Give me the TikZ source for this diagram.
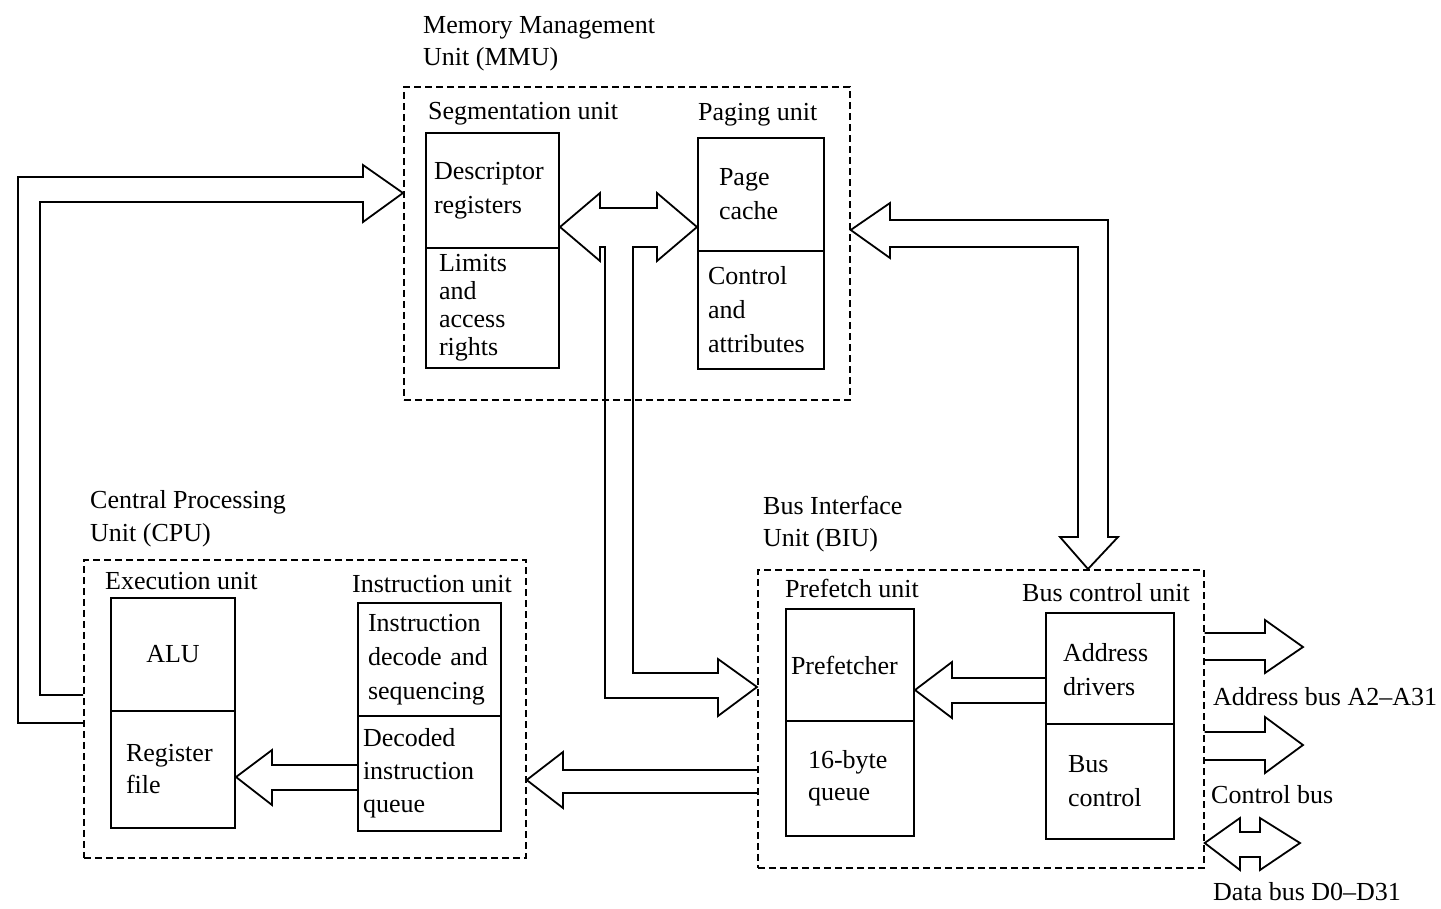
\documentclass[tikz,border=0pt]{standalone}
\usepackage{fontspec}
\setmainfont{Liberation Serif}
\usetikzlibrary{calc}
\begin{document}
\begin{tikzpicture}[x=1pt,y=-1pt,
  every node/.style={font=\fontsize{26pt}{34pt}\selectfont, inner sep=0pt},
  grp/.style={draw, dash pattern=on 7pt off 4pt, line width=1.7pt, anchor=north west},
  half/.style={draw, line width=2pt, anchor=north west, align=left, inner ysep=0pt},
  ttl/.style={anchor=base west},
  barrow/.style={draw, line width=1.8pt, line join=miter}
]
\useasboundingbox (0,0) rectangle (1441,908);

% ---------- Memory management unit ----------
\node[grp, minimum width=446pt, minimum height=313pt] (mmu) at (403,86) {};
\node[ttl] (mmuT1) at (423,33) {Memory Management};
\node[ttl] (mmuT2) at (423,65) {Unit (MMU)};
\node[ttl] (segT) at (428,119) {Segmentation unit};
\node[ttl] (pagT) at (698,120) {Paging unit};

\node[half, minimum width=133pt, minimum height=115pt, inner xsep=8pt, text width=117pt]
  (descU) at (425,132) {Descriptor\\registers};
\node[half, minimum width=133pt, minimum height=120pt, inner xsep=13pt, text width=107pt,
  font=\fontsize{26pt}{28pt}\selectfont]
  (descL) at (425,247) {Limits\\and\\access\\rights};
\node[half, minimum width=126pt, minimum height=113pt, inner xsep=21pt, text width=84pt]
  (pageU) at (697,137) {Page\\cache};
\node[half, minimum width=126pt, minimum height=118pt, inner xsep=10pt, text width=106pt]
  (pageL) at (697,250) {Control\\and\\attributes};

% ---------- Central processing unit ----------
\node[grp, minimum width=442pt, minimum height=298pt] (cpu) at (83,559) {};
\node[ttl] (cpuT1) at (90,508) {Central Processing};
\node[ttl] (cpuT2) at (90,541) {Unit (CPU)};
\node[ttl] (exeT) at (105,589) {Execution unit};
\node[ttl] (insT) at (352,592) {Instruction unit};

\node[half, minimum width=124pt, minimum height=113pt, inner xsep=0pt, text width=124pt, align=center]
  (aluU) at (110,597) {ALU\\[8pt]};
\node[half, minimum width=124pt, minimum height=117pt, inner xsep=15pt, text width=94pt,
  font=\fontsize{26pt}{32pt}\selectfont]
  (aluL) at (110,710) {Register\\file};
\node[half, minimum width=143pt, minimum height=113pt, inner xsep=10pt, text width=123pt]
  (insU) at (357,602) {Instruction\\decode and\\sequencing};
\node[half, minimum width=143pt, minimum height=115pt, inner xsep=5pt, text width=133pt,
  font=\fontsize{26pt}{33pt}\selectfont]
  (insL) at (357,715) {Decoded\\instruction\\queue};

% ---------- Bus interface unit ----------
\node[grp, minimum width=446pt, minimum height=298pt] (biu) at (757,569) {};
\node[ttl] (biuT1) at (763,514) {Bus Interface};
\node[ttl] (biuT2) at (763,546) {Unit (BIU)};
\node[ttl] (preT) at (785,597) {Prefetch unit};
\node[ttl] (bcuT) at (1022,601) {Bus control unit};

\node[half, minimum width=128pt, minimum height=112pt, inner xsep=5pt, text width=118pt]
  (preU) at (785,608) {Prefetcher\\[10pt]};
\node[half, minimum width=128pt, minimum height=115pt, inner xsep=22pt, text width=84pt,
  font=\fontsize{26pt}{32pt}\selectfont]
  (preL) at (785,720) {16-byte\\queue};
\node[half, minimum width=128pt, minimum height=111pt, inner xsep=17pt, text width=94pt]
  (busU) at (1045,612) {\\[-14pt]Address\\drivers};
\node[half, minimum width=128pt, minimum height=115pt, inner xsep=22pt, text width=84pt]
  (busL) at (1045,723) {Bus\\control};

% ---------- Bus labels ----------
\node[ttl] (abusT) at (1213,705) {Address bus A2--A31};
\node[ttl] (cbusT) at (1211,803) {Control bus};
\node[ttl] (dbusT) at (1213,900) {Data bus D0--D31};

% ---------- Block arrows ----------
% CPU to MMU, looping round the left side
\draw[barrow] (cpu.west |- 0,723) -- (18,723) -- (18,177) -- (363,177) -- (363,165)
  -- (mmu.west |- 0,193) -- (363,222) -- (363,202) -- (40,202) -- (40,695)
  -- (cpu.west |- 0,695);

% Segmentation <-> paging, with a branch down into the BIU
\draw[barrow] (descU.east |- 0,227) -- (600,193) -- (600,208) -- (657,208) -- (657,193)
  -- (pageU.west |- 0,227) -- (657,261) -- (657,247) -- (633,247) -- (633,673)
  -- (718,673) -- (718,659) -- (biu.west |- 0,687) -- (718,716) -- (718,698)
  -- (605,698) -- (605,247) -- (600,247) -- (600,261) -- cycle;

% MMU <-> bus control unit
\draw[barrow] (mmu.east |- 0,230) -- (890,203) -- (890,220) -- (1108,220) -- (1108,537)
  -- (1118,537) -- (biu.north -| 1088,0) -- (1060,537) -- (1078,537) -- (1078,247)
  -- (890,247) -- (890,258) -- cycle;

% Decoded instruction queue to register file
\draw[barrow] (insL.west |- 0,765) -- (272,765) -- (272,750) -- (aluL.east |- 0,777)
  -- (272,805) -- (272,790) -- (insL.west |- 0,790);

% BIU to CPU
\draw[barrow] (biu.west |- 0,770) -- (563,770) -- (563,752) -- (cpu.east |- 0,780)
  -- (563,808) -- (563,793) -- (biu.west |- 0,793);

% Address drivers to prefetcher
\draw[barrow] (busU.west |- 0,678) -- (952,678) -- (952,662) -- (preU.east |- 0,690)
  -- (952,718) -- (952,703) -- (busU.west |- 0,703);

% External buses
\coordinate (abus) at (1303,647);
\coordinate (cbus) at (1303,745);
\coordinate (dbus) at (1300,843);
\draw[barrow] (biu.east |- 0,633) -- (1265,633) -- (1265,620) -- (abus)
  -- (1265,673) -- (1265,660) -- (biu.east |- 0,660);
\draw[barrow] (biu.east |- 0,732) -- (1265,732) -- (1265,717) -- (cbus)
  -- (1265,773) -- (1265,760) -- (biu.east |- 0,760);
\draw[barrow] (biu.east |- 0,843) -- (1240,818) -- (1240,832) -- (1260,832) -- (1260,818)
  -- (dbus) -- (1260,870) -- (1260,857) -- (1240,857) -- (1240,870) -- cycle;
\end{tikzpicture}
\end{document}
